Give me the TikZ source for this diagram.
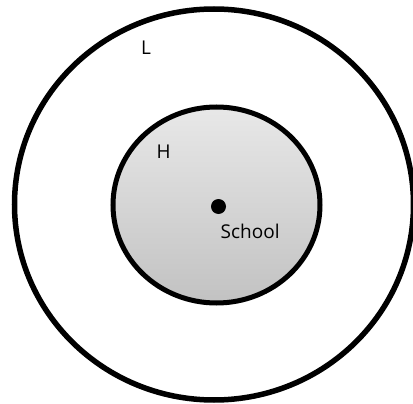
\documentclass[tikz,border=0pt]{standalone}
\usepackage{fontspec}
\setmainfont{Open Sans}
\usetikzlibrary{shapes.geometric}
\begin{document}
\begin{tikzpicture}[x=1pt,y=-1pt,
  ring/.style={draw=black, ellipse, inner sep=0pt, outer sep=0pt},
  lbl/.style={anchor=base west, inner sep=0pt, font=\fontsize{19}{22}\selectfont, text=black}]
\useasboundingbox (0,0) rectangle (413,404);
\node[ring, line width=5.5pt, minimum width=399pt, minimum height=391pt] (outer) at (214,204.5) {};
\node[ring, line width=5pt, minimum width=207pt, minimum height=196pt,
  top color=black!9, bottom color=black!24] (inner) at (216.5,205) {};
\node[circle, fill=black, inner sep=0pt, minimum size=15pt] (school) at (218.5,206.5) {};
\node[lbl] (L) at (141,55) {L};
\node[lbl] (H) at (156.5,159) {H};
\node[lbl] (schooltext) at (220.5,238.5) {School};
\end{tikzpicture}
\end{document}
